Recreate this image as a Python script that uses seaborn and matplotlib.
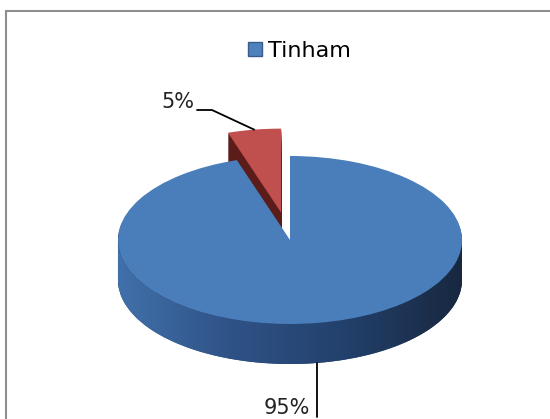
import numpy as np
import seaborn as sns
import matplotlib.pyplot as plt
from matplotlib.colors import LinearSegmentedColormap
from matplotlib.patches import Polygon, Rectangle

# data
categories = ['Tinham', '']
values = [95, 5]
top_colors = ['#4a7ebb', '#c0504d']
side_colors = ['#24406a', '#5c1c1a']
explode = [0, 0.33]

sns.set_theme(style='white')
plt.rcParams['font.family'] = ['DejaVu Sans']

W, H = 550, 419
R = 172.0            # radius in pixels (horizontal)
k = 84.0 / R         # vertical squash of the tilted disc
cx, cy_pix = 290, 240
depth_pix = 40
start = 108


def py(y):
    # pixel row -> data y
    return (H - y) / k


cy = py(cy_pix)
D = depth_pix / k
expl = [e * R for e in explode]   # pie() takes the offset in data units

fig = plt.figure(figsize=(5.5, 4.19), dpi=100)
ax = fig.add_axes([0, 0, 1, 1])

# side walls: stacked layers from the bottom up
n_layers = 40
for i in range(n_layers):
    off = D * (1 - i / n_layers)
    wedges, _ = ax.pie(values, colors=side_colors, startangle=start,
                       explode=expl, radius=R, center=(cx, cy - off),
                       wedgeprops=dict(linewidth=0))
    wedges[0].set_zorder(3)
    wedges[1].set_zorder(1)

# shaded front wall of the big slice
t = np.linspace(np.pi, 2 * np.pi, 200)
top_arc = np.column_stack([cx + R * np.cos(t), cy + R * np.sin(t)])
bot_arc = np.column_stack([cx + R * np.cos(t[::-1]), cy - D + R * np.sin(t[::-1])])
wall = Polygon(np.vstack([top_arc, bot_arc]), closed=True, facecolor='none',
               edgecolor='none', transform=ax.transData)
ax.add_patch(wall)
cmap = LinearSegmentedColormap.from_list('side', ['#4170aa', '#2f5286', '#22406b', '#18283f'])
grad = np.linspace(0, 1, 256).reshape(1, -1)
im = ax.imshow(grad, cmap=cmap, aspect='auto', zorder=4,
               extent=(cx - R, cx + R, cy - D - R - 5, cy + 5))
im.set_clip_path(wall)

# top faces
tops, _ = ax.pie(values, colors=top_colors, startangle=start, explode=expl,
                 radius=R, center=(cx, cy), wedgeprops=dict(linewidth=0))
tops[0].set_zorder(5)
tops[1].set_zorder(2)

ax.set_xlim(0, W)
ax.set_ylim(0, H / k)
ax.set_aspect('auto')
ax.axis('off')

# percentage labels with leader lines
total = sum(values)
pct = [f'{v / total * 100:.0f}%' for v in values]
angles = np.cumsum([0] + values) / total * 360 + start
mid = np.deg2rad((angles[:-1] + angles[1:]) / 2)

# small slice: line from the top rim of the exploded wedge
ex = expl[1]
p_small = (cx + (ex + R) * np.cos(mid[1]), cy + (ex + R) * np.sin(mid[1]))
ax.plot([197, 212, p_small[0]], [py(110), py(110), p_small[1]],
        color='black', lw=1.3, zorder=6)
ax.text(194, py(102), pct[1], ha='right', va='center', fontsize=15,
        color='#222222', zorder=6)

# big slice: vertical line from the bottom of the wall
p_big = (cx + R * np.cos(mid[0]), cy - D + R * np.sin(mid[0]))
ax.plot([p_big[0], p_big[0]], [p_big[1], py(417)], color='black', lw=1.3, zorder=6)
ax.text(p_big[0] - 7, py(408), pct[0], ha='right', va='center', fontsize=15,
        color='#222222', zorder=6)

# legend
handle = Rectangle((0, 0), 1, 1, facecolor='#4f81bd', edgecolor='#385d8a', lw=1)
leg = ax.legend([handle], [categories[0]], loc='upper center', bbox_to_anchor=(0.545, 0.95),
                frameon=False, fontsize=16, handlelength=0.6, handleheight=0.6,
                handletextpad=0.3)
for txt in leg.get_texts():
    txt.set_color('black')

# chart border (top and left edges visible)
fig.patches.append(Rectangle((6 / W, -0.2), 2, 1 - 11 / H + 0.2, transform=fig.transFigure,
                             fill=False, edgecolor='#8e8e8e', lw=1.5))

fig.savefig('out.png', dpi=100)
